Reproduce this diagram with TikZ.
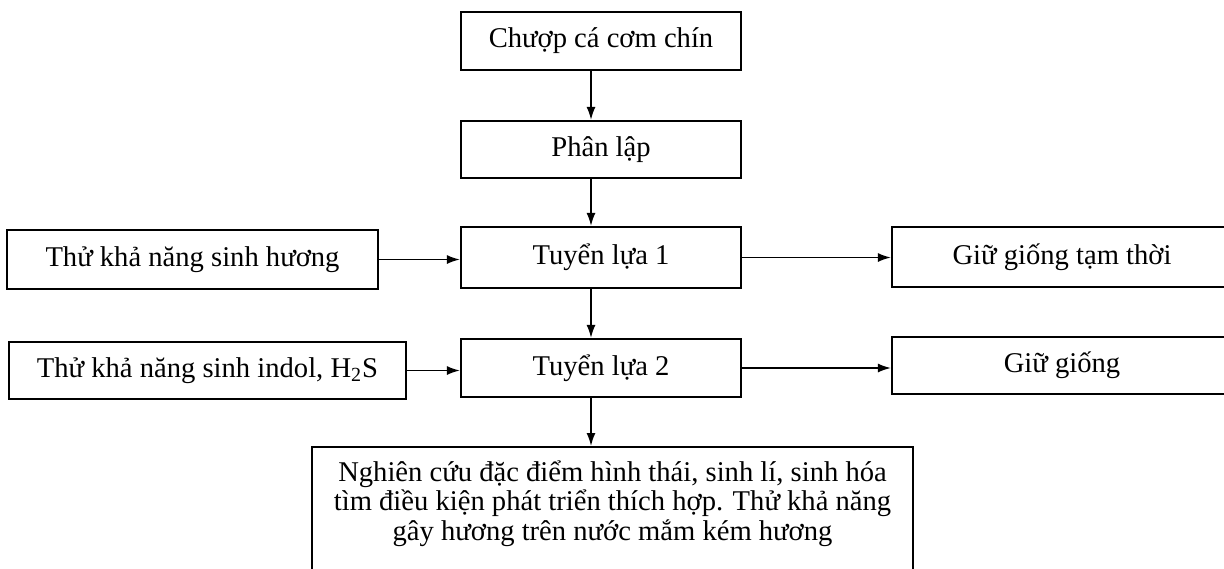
\documentclass[tikz,border=0pt]{standalone}
\usepackage{fontspec}
\setmainfont{Liberation Serif}
\usetikzlibrary{arrows.meta}
\begin{document}
\begin{tikzpicture}[x=0.5pt,y=-0.5pt,
  box/.style={draw=black,line width=1.1pt,inner sep=0pt,
    font=\fontsize{14.3}{14.6}\selectfont},
  plain/.style={inner sep=0pt,font=\fontsize{14.3}{14.6}\selectfont},
  arr/.style={line width=0.8pt,-{Latex[length=6.5pt,width=4.5pt]}}]
\useasboundingbox (0,0) rectangle (1224,568);
\clip (0,0) rectangle (1224,568);
\fill[white] (0,0) rectangle (1224,568);
\coordinate (ax) at (591,0);
% centre column
\node[box,minimum width=140pt,minimum height=29pt] (A) at (601,41) {Chượp cá cơm chín};
\node[box,minimum width=140pt,minimum height=28.5pt] (B) at (601,149.5) {Phân lập};
\node[box,minimum width=140pt,minimum height=30.5pt] (C) at (601,257.5) {Tuyển lựa 1};
\node[box,minimum width=140pt,minimum height=29pt] (D) at (601,368) {Tuyển lựa 2};
% left column
\node[box,minimum width=185.5pt,minimum height=29.5pt] (L1) at (192.5,259.5) {Thử khả năng sinh hương};
\node[box,minimum width=198.5pt,minimum height=28.5pt] (L2) at (207.5,370.5) {Thử khả năng sinh indol, H\textsubscript{2}S};
% right column
\node[box,minimum width=170pt,minimum height=30pt] (R1) at (1062,257) {Giữ giống tạm thời};
\node[box,minimum width=170pt,minimum height=28.5pt] (R2) at (1062,365.5) {Giữ giống};
% bottom box
\node[box,minimum width=300.5pt,minimum height=75pt,anchor=north] (E) at (612.5,446) {};
\node[plain,align=center,anchor=base] (Et) at (612.5,540)
  {Nghiên cứu đặc điểm hình thái, sinh lí, sinh hóa\\
   tìm điều kiện phát triển thích hợp. Thử khả năng\\
   gây hương trên nước mắm kém hương};
% connectors
\draw[arr] (A.south -| ax) -- (B.north -| ax);
\draw[arr] (B.south -| ax) -- (C.north -| ax);
\draw[arr] (C.south -| ax) -- (D.north -| ax);
\draw[arr] (D.south -| ax) -- (E.north -| ax);
\draw[arr] (L1.east) -- (L1.east -| C.west);
\draw[arr] (L2.east) -- (L2.east -| D.west);
\draw[arr] (C.east) -- (C.east -| R1.west);
\draw[arr] (D.east) -- (D.east -| R2.west);
\end{tikzpicture}
\end{document}
